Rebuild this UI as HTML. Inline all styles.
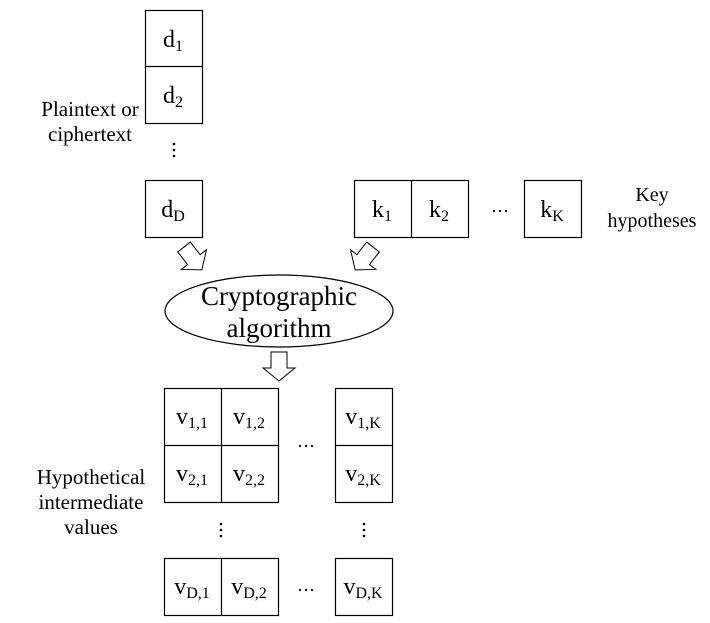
<!DOCTYPE html>
<html><head><style>
html,body{margin:0;padding:0;background:#fff;}
svg text{font-family:"Liberation Serif",serif;fill:#000;}
</style></head><body>
<svg width="710" height="618" viewBox="0 0 710 618" xmlns="http://www.w3.org/2000/svg">
<defs>
<polygon id="arr" points="-8,0 8,0 8,16 16,16 0,29 -16,16 -8,16" fill="#fff" stroke="#000" stroke-width="1"/>
</defs>
<g fill="none" stroke="#000" stroke-width="1.2">
<rect x="145.5" y="10.5" width="57" height="113"/><line x1="145.5" y1="66.5" x2="202.5" y2="66.5"/>
<rect x="145.5" y="180.5" width="57" height="57"/>
<rect x="354.5" y="180.5" width="114" height="57"/><line x1="411.5" y1="180.5" x2="411.5" y2="237.5"/>
<rect x="524.5" y="180.5" width="57" height="57"/>
<rect x="164.5" y="388.5" width="114" height="114"/><line x1="221.5" y1="388.5" x2="221.5" y2="502.5"/><line x1="164.5" y1="445.5" x2="278.5" y2="445.5"/>
<rect x="335.5" y="388.5" width="57" height="114"/><line x1="335.5" y1="445.5" x2="392.5" y2="445.5"/>
<rect x="164.5" y="558.5" width="114" height="57"/><line x1="221.5" y1="558.5" x2="221.5" y2="615.5"/>
<rect x="335.5" y="558.5" width="57" height="57"/>
<ellipse cx="279" cy="311" rx="114" ry="36"/>
</g>
<use href="#arr" transform="translate(184,247) rotate(-38)"/>
<use href="#arr" transform="translate(373,247) rotate(38)"/>
<use href="#arr" transform="translate(279,352)"/>
<g font-size="24" text-anchor="middle">
<text x="173" y="47">d<tspan font-size="16" dy="4">1</tspan></text>
<text x="173" y="103">d<tspan font-size="16" dy="4">2</tspan></text>
<text x="173" y="217">d<tspan font-size="16" dy="4">D</tspan></text>
<text x="382" y="217">k<tspan font-size="16" dy="4">1</tspan></text>
<text x="439" y="217">k<tspan font-size="16" dy="4">2</tspan></text>
<text x="552" y="217">k<tspan font-size="16" dy="4">K</tspan></text>
<text x="192" y="424">v<tspan font-size="16" dy="4">1,1</tspan></text>
<text x="249" y="424">v<tspan font-size="16" dy="4">1,2</tspan></text>
<text x="363" y="424">v<tspan font-size="16" dy="4">1,K</tspan></text>
<text x="192" y="481">v<tspan font-size="16" dy="4">2,1</tspan></text>
<text x="249" y="481">v<tspan font-size="16" dy="4">2,2</tspan></text>
<text x="363" y="481">v<tspan font-size="16" dy="4">2,K</tspan></text>
<text x="192" y="594">v<tspan font-size="16" dy="4">D,1</tspan></text>
<text x="249" y="594">v<tspan font-size="16" dy="4">D,2</tspan></text>
<text x="363" y="594">v<tspan font-size="16" dy="4">D,K</tspan></text>
<text x="279" y="305" font-size="27">Cryptographic</text>
<text x="279" y="337" font-size="27">algorithm</text>
</g>
<g fill="#000">
<circle cx="174" cy="144" r="1.3"/><circle cx="174" cy="150" r="1.3"/><circle cx="174" cy="156" r="1.3"/>
<circle cx="221" cy="524" r="1.3"/><circle cx="221" cy="530" r="1.3"/><circle cx="221" cy="536" r="1.3"/>
<circle cx="364" cy="524" r="1.3"/><circle cx="364" cy="530" r="1.3"/><circle cx="364" cy="536" r="1.3"/>
<circle cx="494" cy="211" r="1.1"/><circle cx="500" cy="211" r="1.1"/><circle cx="506" cy="211" r="1.1"/>
<circle cx="300" cy="446" r="1.1"/><circle cx="306" cy="446" r="1.1"/><circle cx="312" cy="446" r="1.1"/>
<circle cx="300" cy="590" r="1.1"/><circle cx="306" cy="590" r="1.1"/><circle cx="312" cy="590" r="1.1"/>
</g>
<g font-size="21" text-anchor="middle">
<text x="90" y="116">Plaintext or</text>
<text x="90" y="141">ciphertext</text>
<text x="91" y="484">Hypothetical</text>
<text x="91" y="509">intermediate</text>
<text x="91" y="534">values</text>
</g>
<g font-size="20" text-anchor="middle">
<text x="652" y="201">Key</text>
<text x="652" y="227">hypotheses</text>
</g>
</svg>
</body></html>
